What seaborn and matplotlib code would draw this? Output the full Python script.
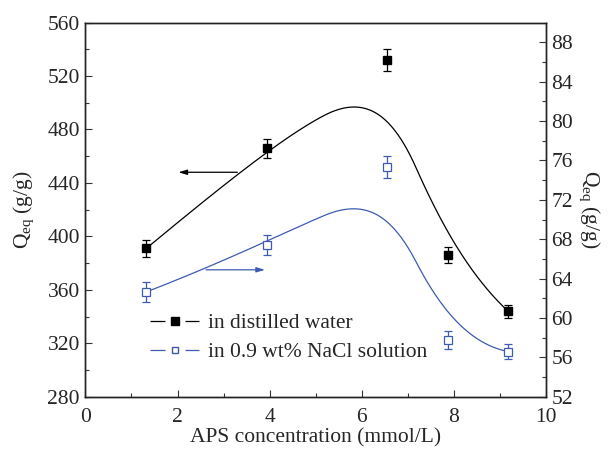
import numpy as np
import pandas as pd
import matplotlib
matplotlib.use("Agg")
import matplotlib.pyplot as plt
import seaborn as sns

# APS concentration (mmol/L)
aps = [1.32, 3.95, 6.55, 7.87, 9.18]
# equilibrium swelling in distilled water (g/g), left axis
q_water = [391, 466, 532, 386, 344]
q_water_err = [6, 7, 8, 6, 5]
# equilibrium swelling in 0.9 wt% NaCl (g/g), right axis
q_nacl = [62.65, 67.4, 75.3, 57.8, 56.6]
q_nacl_err = [1.0, 1.0, 1.1, 0.9, 0.8]

labels = ["in distilled water", "in 0.9 wt% NaCl solution"]
blue = "#3d5bb3"


def bspline(px, py, degree, n=400):
    """Clamped B-spline using the measured points as control points."""
    px = np.asarray(px, float)
    py = np.asarray(py, float)
    m = len(px)
    knots = np.concatenate([[0.0] * degree,
                            np.linspace(0, 1, m - degree + 1),
                            [1.0] * degree])
    t = np.linspace(0, 1, n)
    t[-1] -= 1e-9
    N = np.array([(knots[i] <= t) & (t < knots[i + 1])
                  for i in range(len(knots) - 1)], float).T
    for d in range(1, degree + 1):
        Nn = np.zeros((n, len(knots) - 1 - d))
        for i in range(len(knots) - 1 - d):
            den1 = knots[i + d] - knots[i]
            den2 = knots[i + d + 1] - knots[i + 1]
            a = (t - knots[i]) / den1 * N[:, i] if den1 > 0 else 0
            b = (knots[i + d + 1] - t) / den2 * N[:, i + 1] if den2 > 0 else 0
            Nn[:, i] = a + b
        N = Nn
    return N @ px, N @ py


def trend(px, py):
    """Smooth trend: mean of the quadratic and cubic B-spline curves."""
    x2, y2 = bspline(px, py, 2)
    x3, y3 = bspline(px, py, 3)
    return 0.5 * (x2 + x3), 0.5 * (y2 + y3)


sns.set_style("ticks")
plt.rcParams["font.family"] = ["Liberation Serif", "DejaVu Serif"]
plt.rcParams["mathtext.fontset"] = "custom"
plt.rcParams["mathtext.rm"] = "Liberation Serif"
plt.rcParams["mathtext.it"] = "Liberation Serif:italic"
plt.rcParams["lines.scale_dashes"] = False

fig = plt.figure(figsize=(6.1, 4.5), dpi=100)
ax = fig.add_axes([0.140, 0.118, 0.755, 0.832])
ax2 = ax.twinx()

fs = 15.5

# smooth trend curves
cx, cy = trend(aps, q_water)
sns.lineplot(x=cx, y=cy, ax=ax, color="black", lw=0.9, sort=False,
             estimator=None)
bx, by = trend(aps, q_nacl)
sns.lineplot(x=bx, y=by, ax=ax2, color=blue, lw=0.9, sort=False,
             estimator=None)

# measured points with error bars
ax.errorbar(aps, q_water, yerr=q_water_err, fmt="s", color="black",
            ms=5.6, capsize=2.6, elinewidth=0.9, capthick=0.9, zorder=5)
ax2.errorbar(aps, q_nacl, yerr=q_nacl_err, fmt="s", color=blue,
             mfc="white", mec=blue, mew=0.9, ms=5.2, capsize=2.6,
             elinewidth=0.9, capthick=0.9, zorder=5)

# axis ranges and ticks
ax.set_xlim(0, 10)
ax.set_ylim(280, 560)
ax2.set_ylim(52, 90)
ax.set_xticks(np.arange(0, 11, 2))
ax.set_xticks(np.arange(1, 10, 2), minor=True)
ax.set_yticks(np.arange(280, 561, 40))
ax.set_yticks(np.arange(300, 560, 40), minor=True)
ax2.set_yticks(np.arange(52, 89, 4))
ax2.set_yticks(np.arange(54, 90, 4), minor=True)

for a in (ax, ax2):
    a.tick_params(which="major", direction="in", length=5, width=0.8,
                  labelsize=fs, pad=4, color="#333333")
    a.tick_params(which="minor", direction="in", length=2.6, width=0.8,
                  color="#333333")
    for s in a.spines.values():
        s.set_linewidth(1.0)
        s.set_color("#222222")
ax.tick_params(axis="x", pad=8)
ax.tick_params(top=False, which="both")
ax2.tick_params(top=False, which="both")

ax.set_xlabel("APS concentration (mmol/L)", fontsize=fs, labelpad=1)
ax.set_ylabel(r"Q$_{\mathrm{eq}}$ (g/g)", fontsize=fs, labelpad=8)
ax2.set_ylabel(r"Q$_{\mathrm{eq}}$ (g/g)", fontsize=fs, rotation=270,
               labelpad=20)

# arrows pointing to the axis of each series
ax.annotate("", xy=(2.02, 448), xytext=(3.3, 448),
            arrowprops=dict(arrowstyle="-|>,head_length=0.5,head_width=0.15",
                            color="black", lw=0.9, shrinkA=0, shrinkB=0))
ax2.annotate("", xy=(3.9, 64.9), xytext=(2.62, 64.9),
             arrowprops=dict(arrowstyle="-|>,head_length=0.5,head_width=0.15",
                             color=blue, lw=0.9, shrinkA=0, shrinkB=0))

# legend handles: line - marker - line, with gaps around the marker
gap_ls = (0, (10.8, 14.4, 20, 1))
h1 = plt.Line2D([], [], color="black", lw=0.9, ls=gap_ls, marker="s",
                ms=5.2)
h2 = plt.Line2D([], [], color=blue, lw=0.9, ls=gap_ls, marker="s", ms=5.0,
                mfc="white", mec=blue)
ax.legend([h1, h2], labels, loc="center left",
          bbox_to_anchor=(0.14, 0.158), frameon=False, fontsize=fs,
          handlelength=2.3, handletextpad=0.42, borderpad=0,
          borderaxespad=0, labelspacing=0.42)

fig.savefig("out.png", dpi=100)
